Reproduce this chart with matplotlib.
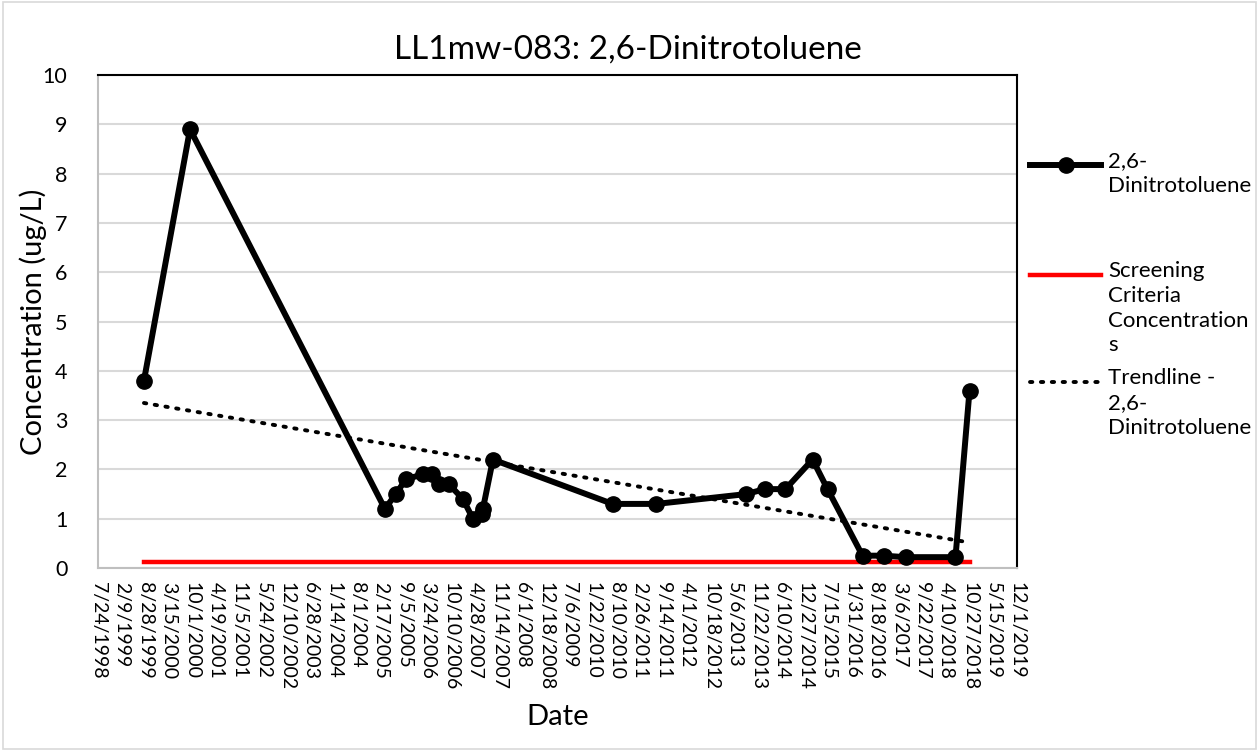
import numpy as np
import pandas as pd
import matplotlib
matplotlib.use("Agg")
import matplotlib.pyplot as plt
import matplotlib.dates as mdates
from matplotlib.lines import Line2D
from matplotlib.patches import Rectangle

plt.rcParams['font.family'] = ['Lato', 'DejaVu Sans']

## Data
sample_dates = ["1999-08-18", "2000-09-12", "2005-03-24", "2005-06-25", "2005-09-18",
                "2006-02-09", "2006-04-27", "2006-06-25", "2006-09-18", "2007-01-15",
                "2007-04-10", "2007-06-25", "2007-07-04", "2007-09-27", "2010-07-08",
                "2011-07-16", "2013-08-18", "2014-01-18", "2014-07-15", "2015-03-02",
                "2015-07-07", "2016-04-29", "2016-10-24", "2017-04-29", "2018-06-27",
                "2018-10-24"]
concentration = [3.8, 8.9, 1.2, 1.5, 1.8,
                 1.9, 1.9, 1.7, 1.7, 1.4,
                 1.0, 1.1, 1.2, 2.2, 1.3,
                 1.3, 1.5, 1.6, 1.6, 2.2,
                 1.6, 0.25, 0.25, 0.22, 0.22,
                 3.6]
screening_value = 0.12

# x axis: Excel date axis, major unit 200 days
axis_start = "1998-07-24"
axis_end = "2019-12-01"
tick_step_days = 200

dates = pd.to_datetime(sample_dates)
x = mdates.date2num(dates)

fig = plt.figure(figsize=(12.59, 7.51), dpi=100)
ax = fig.add_axes([98 / 1259, 1 - 568 / 751, (1017 - 98) / 1259, (568 - 75) / 751])

# outer chart border
fig.add_artist(Rectangle((0.002, 0.002), 0.996, 0.995, transform=fig.transFigure,
                         fill=False, edgecolor='#d9d9d9', linewidth=1.2))

# screening criteria
ax.plot(x, [screening_value] * len(x), color='#ff0000', linewidth=3.2, zorder=3)

# linear trendline, like Excel
slope, intercept = np.polyfit(x, concentration, 1)
trend_x = np.array([x[0], x[-1]])
ax.plot(trend_x, slope * trend_x + intercept, color='black', linewidth=2.8,
        linestyle=(0, (0.6, 2.2)), dash_capstyle='round', zorder=4)

# the series itself
ax.plot(x, concentration, color='black', linewidth=4.3, marker='o',
        markersize=11, zorder=5)

# axes
x0 = mdates.date2num(pd.Timestamp(axis_start))
x1 = mdates.date2num(pd.Timestamp(axis_end))
ticks = np.arange(x0, x1 + 1, tick_step_days)
ax.set_xlim(x0, x1)
ax.set_ylim(0, 10)
ax.set_xticks(ticks)
ax.set_xticklabels([f"{d.month}/{d.day}/{d.year}" for d in mdates.num2date(ticks)],
                   rotation=270, ha='center', va='top', fontsize=14)
ax.set_yticks(range(0, 11))
ax.tick_params(axis='y', labelsize=15.5, length=0, pad=22)
ax.tick_params(axis='x', length=0, pad=10)
ax.yaxis.grid(True, color='#d9d9d9', linewidth=1.5)
ax.set_axisbelow(True)
for side in ['top', 'right']:
    ax.spines[side].set_color('black')
    ax.spines[side].set_linewidth(1.5)
for side in ['left', 'bottom']:
    ax.spines[side].set_color('#bfbfbf')
    ax.spines[side].set_linewidth(1.5)

fig.text(628 / 1259, 1 - 50 / 751, "LL1mw-083: 2,6-Dinitrotoluene", fontsize=24,
         ha='center', va='center')
fig.text(33 / 1259, 1 - 322 / 751, "Concentration (ug/L)", fontsize=21,
         rotation=90, ha='center', va='center')
fig.text(558 / 1259, 1 - 717 / 751, "Date", fontsize=21, ha='center', va='center')

## Legend, drawn by hand to keep handles aligned with the first text line
def fx(px):
    return px / 1259

def fy(py):
    return 1 - py / 751

legend_items = [
    (165, "2,6-\nDinitrotoluene", dict(color='black', linewidth=4.3)),
    (275, "Screening\nCriteria\nConcentration\ns", dict(color='#ff0000', linewidth=3.2)),
    (382, "Trendline -\n2,6-\nDinitrotoluene", dict(color='black', linewidth=2.8,
                                                    linestyle=(0, (0.6, 2.2)),
                                                    dash_capstyle='round')),
]
for py, label, style in legend_items:
    fig.add_artist(Line2D([fx(1030), fx(1101)], [fy(py), fy(py)],
                          transform=fig.transFigure, **style))
    fig.text(fx(1108), fy(py - 14), label, fontsize=16, ha='left', va='top',
             linespacing=1.3)
fig.add_artist(Line2D([fx(1066)], [fy(165)], transform=fig.transFigure,
                      marker='o', markersize=11, color='black'))

fig.savefig("out.png", dpi=100)
